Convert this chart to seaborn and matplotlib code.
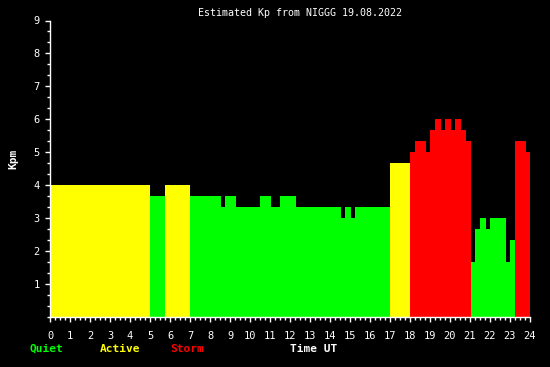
import numpy as np
import pandas as pd
import matplotlib
matplotlib.use("Agg")
import matplotlib.pyplot as plt
import seaborn as sns
from matplotlib.ticker import MultipleLocator, FixedLocator

# ---- data ----
start_hours = [0.0, 5.0, 5.75, 7.0, 8.55, 8.75, 9.3, 10.5, 11.05, 11.5, 12.3,
               14.55, 14.75, 15.05, 15.25, 17.0, 18.0, 18.25, 18.8, 19.0, 19.25,
               19.55, 19.75, 20.05, 20.25, 20.55, 20.8, 21.05, 21.25, 21.5, 21.8,
               22.0, 22.8, 23.0, 23.25, 23.8]
end_hour = 24.0
kpm_values = [4.0, 3.667, 4.0, 3.667, 3.333, 3.667, 3.333, 3.667, 3.333, 3.667, 3.333,
              3.0, 3.333, 3.0, 3.333, 4.667, 5.0, 5.333, 5.0, 5.667, 6.0,
              5.667, 6.0, 5.667, 6.0, 5.667, 5.333, 1.667, 2.667, 3.0, 2.667,
              3.0, 1.667, 2.333, 5.333, 5.0]
status_names = ["Quiet", "Active", "Storm"]
status_colors = ["#00ff00", "#ffff00", "#ff0000"]
x_tick_labels = [str(h) for h in range(0, 25)]
y_tick_labels = [str(k) for k in range(1, 10)]

edges = start_hours + [end_hour]
mids = [(a + b) / 2 for a, b in zip(edges[:-1], edges[1:])]
status = ["Storm" if v >= 5 else ("Active" if v >= 4 else "Quiet") for v in kpm_values]
df = pd.DataFrame({"time": mids, "kpm": kpm_values, "status": status})

sns.set_style("dark", {"axes.facecolor": "black", "figure.facecolor": "black"})
plt.rcParams["font.family"] = ["DejaVu Sans Mono"]

fig = plt.figure(figsize=(5.5, 3.67), dpi=100, facecolor="black")
ax = fig.add_axes([50 / 550, 1 - 317 / 367, 480 / 550, (317 - 20.5) / 367])
ax.set_facecolor("black")

sns.histplot(data=df, x="time", weights="kpm", bins=edges, hue="status",
             hue_order=status_names, palette=dict(zip(status_names, status_colors)),
             multiple="stack", linewidth=0, alpha=1, legend=False, ax=ax)

ax.set_xlim(0, 24)
ax.set_ylim(0, 9)
ax.grid(False)
for s in ["top", "right"]:
    ax.spines[s].set_visible(False)
for s in ["left", "bottom"]:
    ax.spines[s].set_visible(True)
    ax.spines[s].set_color("white")
    ax.spines[s].set_linewidth(1)

ax.xaxis.set_major_locator(FixedLocator(range(0, 25)))
ax.set_xticklabels(x_tick_labels)
ax.xaxis.set_minor_locator(MultipleLocator(0.25))
ax.yaxis.set_major_locator(FixedLocator(range(1, 10)))
ax.set_yticklabels(y_tick_labels)
ax.yaxis.set_minor_locator(MultipleLocator(1 / 3))
ax.tick_params(axis="x", which="both", bottom=True)
ax.tick_params(axis="y", which="both", left=True)
ax.tick_params(which="major", direction="out", length=3.6, width=1, color="white",
               labelcolor="white", labelsize=7.5)
ax.tick_params(which="minor", direction="out", length=2.2, width=1, color="white")
ax.tick_params(axis="x", which="major", pad=6.5)
ax.tick_params(axis="y", which="major", pad=3.6)
ax.set_xlabel("")
ax.set_ylabel("")

fig.text(300 / 550, 1 - 13 / 367, "Estimated Kp from NIGGG 19.08.2022", color="white",
         fontsize=7.2, ha="center", va="center")
fig.text(13 / 550, 1 - 159 / 367, "Kpm", color="white", fontsize=8, fontweight="bold",
         rotation=90, ha="center", va="center")
label_x = [29, 100, 170]
for name, col, lx in zip(status_names, status_colors, label_x):
    fig.text(lx / 550, 1 - 349 / 367, name, color=col, fontsize=8, fontweight="bold",
             ha="left", va="center")
fig.text(290 / 550, 1 - 349 / 367, "Time UT", color="white", fontsize=8,
         fontweight="bold", ha="left", va="center")

fig.savefig("out.png", dpi=100, facecolor="black")
